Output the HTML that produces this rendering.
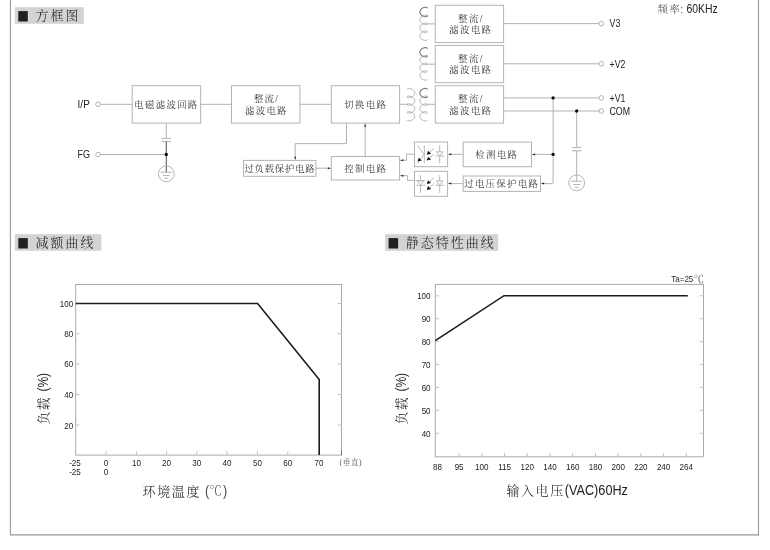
<!DOCTYPE html>
<html lang="zh-CN"><head><meta charset="utf-8"><title>方框图</title>
<style>html,body{margin:0;padding:0;background:#fff;}body{width:770px;height:550px;overflow:hidden;}svg{display:block;filter:grayscale(1);}text{white-space:pre;}</style>
</head><body>
<svg width="770" height="550" viewBox="0 0 770 550">
<rect width="770" height="550" fill="#fff"/>
<polyline points="10.4,-2 10.4,534.85 758.5,534.85 758.5,-2" fill="none" stroke="#969696" stroke-width="1.05" />
<rect x="14.9" y="7.2" width="68.9" height="16.6" fill="#d3d3d3"/>
<rect x="18.3" y="11.1" width="9.5" height="10.4" fill="#231f20"/>
<text transform="translate(35.5,15.8)" text-anchor="start" dy="0.35em" style="font-family:'Liberation Serif','Noto Serif CJK SC',serif;font-size:13.0px;fill:#222;letter-spacing:2.0px;font-weight:300;">方框图</text>
<text transform="translate(77.6,104.3) scale(0.95,1)" text-anchor="start" dy="0.35em" style="font-family:'Liberation Sans',sans-serif;font-size:10.5px;fill:#222;">I/P</text>
<circle cx="98.0" cy="104.3" r="2.3" fill="#fff" stroke="#b3b3b3" stroke-width="1"/>
<line x1="100.3" y1="104.3" x2="132.2" y2="104.3" stroke="#b3b3b3" stroke-width="1"/>
<rect x="132.2" y="85.7" width="68.5" height="37.4" fill="none" stroke="#b3b3b3" stroke-width="1"/>
<text transform="translate(166.4,104.3)" text-anchor="middle" dy="0.35em" style="font-family:'Liberation Serif','Noto Serif CJK SC',serif;font-size:9.4px;fill:#161616;letter-spacing:1.35px;font-weight:300;">电磁滤波回路</text>
<line x1="200.7" y1="104.3" x2="231.5" y2="104.3" stroke="#b3b3b3" stroke-width="1"/>
<rect x="231.5" y="85.7" width="68.4" height="37.4" fill="none" stroke="#b3b3b3" stroke-width="1"/>
<text transform="translate(266.6,98.9)" text-anchor="middle" dy="0.35em" style="font-family:'Liberation Serif','Noto Serif CJK SC',serif;font-size:9.4px;fill:#161616;letter-spacing:1.35px;font-weight:300;">整流/</text>
<text transform="translate(266.4,110.4)" text-anchor="middle" dy="0.35em" style="font-family:'Liberation Serif','Noto Serif CJK SC',serif;font-size:9.4px;fill:#161616;letter-spacing:1.35px;font-weight:300;">滤波电路</text>
<line x1="299.9" y1="104.3" x2="331.3" y2="104.3" stroke="#b3b3b3" stroke-width="1"/>
<rect x="331.3" y="85.7" width="68.3" height="37.4" fill="none" stroke="#b3b3b3" stroke-width="1"/>
<text transform="translate(365.8,104.3)" text-anchor="middle" dy="0.35em" style="font-family:'Liberation Serif','Noto Serif CJK SC',serif;font-size:9.4px;fill:#161616;letter-spacing:1.35px;font-weight:300;">切换电路</text>
<text transform="translate(77.6,154.5) scale(0.86,1)" text-anchor="start" dy="0.35em" style="font-family:'Liberation Sans',sans-serif;font-size:10.5px;fill:#222;">FG</text>
<circle cx="98.0" cy="154.5" r="2.3" fill="#fff" stroke="#b3b3b3" stroke-width="1"/>
<line x1="100.3" y1="154.5" x2="166.3" y2="154.5" stroke="#b3b3b3" stroke-width="1"/>
<line x1="166.3" y1="123.1" x2="166.3" y2="138.4" stroke="#b3b3b3" stroke-width="1"/>
<line x1="161.5" y1="138.4" x2="171.1" y2="138.4" stroke="#b3b3b3" stroke-width="1"/>
<line x1="161.5" y1="141.4" x2="171.1" y2="141.4" stroke="#b3b3b3" stroke-width="1"/>
<line x1="166.3" y1="141.4" x2="166.3" y2="172.2" stroke="#5c5c5c" stroke-width="1.1"/>
<circle cx="166.3" cy="154.5" r="1.7" fill="#111"/>
<circle cx="166.3" cy="173.8" r="7.9" fill="none" stroke="#b3b3b3" stroke-width="1"/>
<line x1="160.70000000000002" y1="172.20000000000002" x2="171.9" y2="172.20000000000002" stroke="#b3b3b3" stroke-width="1"/>
<line x1="162.9" y1="175.60000000000002" x2="169.70000000000002" y2="175.60000000000002" stroke="#b3b3b3" stroke-width="1"/>
<line x1="164.5" y1="178.3" x2="168.10000000000002" y2="178.3" stroke="#b3b3b3" stroke-width="1"/>
<polyline points="346.5,123.1 346.5,143.6 295.2,143.6 295.2,157.5" fill="none" stroke="#b3b3b3" stroke-width="1" />
<polygon points="295.2,160.3 294.2,156.8 296.2,156.8" fill="#2a2a2a"/>
<rect x="243.5" y="160.4" width="72.4" height="15.9" fill="none" stroke="#b3b3b3" stroke-width="1"/>
<text transform="translate(279.9,168.4)" text-anchor="middle" dy="0.35em" style="font-family:'Liberation Serif','Noto Serif CJK SC',serif;font-size:9.4px;fill:#161616;letter-spacing:0.75px;font-weight:300;">过负载保护电路</text>
<line x1="315.7" y1="168.2" x2="329.0" y2="168.2" stroke="#b3b3b3" stroke-width="1"/>
<polygon points="331.3,168.2 327.8,167.2 327.8,169.2" fill="#2a2a2a"/>
<rect x="331.3" y="156.5" width="68.3" height="23.5" fill="none" stroke="#b3b3b3" stroke-width="1"/>
<text transform="translate(365.8,168.3)" text-anchor="middle" dy="0.35em" style="font-family:'Liberation Serif','Noto Serif CJK SC',serif;font-size:9.4px;fill:#161616;letter-spacing:1.35px;font-weight:300;">控制电路</text>
<line x1="365.2" y1="156.5" x2="365.2" y2="125.5" stroke="#b3b3b3" stroke-width="1"/>
<polygon points="365.2,123.3 364.2,126.8 366.2,126.8" fill="#2a2a2a"/>
<rect x="414.5" y="142.0" width="33.1" height="24.7" fill="none" stroke="#b3b3b3" stroke-width="1"/>
<rect x="414.5" y="171.3" width="33.1" height="25.0" fill="none" stroke="#b3b3b3" stroke-width="1"/>
<polyline points="414.5,154.2 406.6,154.2 406.6,160.3 402.5,160.3" fill="none" stroke="#b3b3b3" stroke-width="1" />
<polygon points="399.9,160.3 403.4,159.3 403.4,161.3" fill="#2a2a2a"/>
<polyline points="414.5,180.3 407.6,180.3 407.6,175.7 402.5,175.7" fill="none" stroke="#b3b3b3" stroke-width="1" />
<polygon points="399.9,175.7 403.4,174.7 403.4,176.7" fill="#2a2a2a"/>
<line x1="424.3" y1="145.3" x2="424.3" y2="163.4" stroke="#b9b9b9" stroke-width="1"/>
<polyline points="418.0,145.2 418.0,146.6 424.3,154.4 418.9,160.9" fill="none" stroke="#b9b9b9" stroke-width="1" />
<line x1="418.0" y1="161.3" x2="418.0" y2="163.6" stroke="#b9b9b9" stroke-width="1"/>
<polygon points="417.6,161.6 418.8,157.7 421.9,160.6" fill="#111"/>
<line x1="433.8" y1="148.4" x2="429.2" y2="152.8" stroke="#b9b9b9" stroke-width="1"/>
<polygon points="426.8,154.7 428.0,150.8 431.1,153.7" fill="#111"/>
<line x1="433.8" y1="154.3" x2="429.2" y2="158.70000000000002" stroke="#b9b9b9" stroke-width="1"/>
<polygon points="426.8,160.6 428.0,156.7 431.1,159.6" fill="#111"/>
<line x1="439.7" y1="145.3" x2="439.7" y2="163.4" stroke="#b9b9b9" stroke-width="1"/>
<polygon points="436.5,151.8 442.9,151.8 439.7,156.0" fill="#fff" stroke="#b9b9b9" stroke-width="1"/>
<line x1="435.3" y1="156.0" x2="444.09999999999997" y2="156.0" stroke="#b9b9b9" stroke-width="1"/>
<line x1="416.2" y1="180.6" x2="425.0" y2="180.6" stroke="#b9b9b9" stroke-width="1"/>
<line x1="420.5" y1="175.2" x2="420.5" y2="192.9" stroke="#b9b9b9" stroke-width="1"/>
<polygon points="417.3,180.9 423.7,180.9 420.5,185.3" fill="#fff" stroke="#b9b9b9" stroke-width="1"/>
<line x1="416.1" y1="185.3" x2="424.9" y2="185.3" stroke="#b9b9b9" stroke-width="1"/>
<line x1="433.8" y1="177.8" x2="429.2" y2="182.20000000000002" stroke="#b9b9b9" stroke-width="1"/>
<polygon points="426.8,184.1 428.0,180.2 431.1,183.1" fill="#111"/>
<line x1="433.8" y1="183.70000000000002" x2="429.2" y2="188.10000000000002" stroke="#b9b9b9" stroke-width="1"/>
<polygon points="426.8,190.0 428.0,186.1 431.1,189.0" fill="#111"/>
<line x1="439.7" y1="175.2" x2="439.7" y2="192.9" stroke="#b9b9b9" stroke-width="1"/>
<polygon points="436.5,180.9 442.9,180.9 439.7,185.3" fill="#fff" stroke="#b9b9b9" stroke-width="1"/>
<line x1="435.3" y1="185.3" x2="444.09999999999997" y2="185.3" stroke="#b9b9b9" stroke-width="1"/>
<rect x="463.2" y="142.1" width="68.3" height="24.6" fill="none" stroke="#b3b3b3" stroke-width="1"/>
<text transform="translate(496.8,154.4)" text-anchor="middle" dy="0.35em" style="font-family:'Liberation Serif','Noto Serif CJK SC',serif;font-size:9.4px;fill:#161616;letter-spacing:1.35px;font-weight:300;">检测电路</text>
<rect x="463.2" y="176.0" width="77.3" height="15.4" fill="none" stroke="#b3b3b3" stroke-width="1"/>
<text transform="translate(501.7,183.7)" text-anchor="middle" dy="0.35em" style="font-family:'Liberation Serif','Noto Serif CJK SC',serif;font-size:9.4px;fill:#161616;letter-spacing:1.35px;font-weight:300;">过电压保护电路</text>
<line x1="463.2" y1="154.3" x2="450.5" y2="154.3" stroke="#b3b3b3" stroke-width="1"/>
<polygon points="447.8,154.3 451.3,153.3 451.3,155.3" fill="#2a2a2a"/>
<line x1="463.2" y1="183.6" x2="450.5" y2="183.6" stroke="#b3b3b3" stroke-width="1"/>
<polygon points="447.8,183.6 451.3,182.6 451.3,184.6" fill="#2a2a2a"/>
<line x1="399.6" y1="104.3" x2="408.2" y2="104.3" stroke="#b3b3b3" stroke-width="1"/>
<polyline points="407.0,89.1 407.1,88.86 407.39,88.64 407.85,88.47 408.47,88.37 409.21,88.37 410.03,88.48 410.9,88.69 411.77,89.03 412.59,89.48 413.33,90.04 413.95,90.68 414.41,91.4 414.7,92.18 414.8,92.97 414.7,93.77 414.41,94.55 413.95,95.27 413.33,95.91 412.59,96.47 411.77,96.92 410.9,97.26 410.03,97.47 409.21,97.58 408.47,97.58 407.85,97.48 407.39,97.31 407.1,97.09 407.0,96.85 407.1,96.61 407.39,96.39 407.85,96.22 408.47,96.12 409.21,96.12 410.03,96.23 410.9,96.44 411.77,96.78 412.59,97.23 413.33,97.79 413.95,98.43 414.41,99.15 414.7,99.93 414.8,100.72 414.7,101.52 414.41,102.3 413.95,103.02 413.33,103.66 412.59,104.22 411.77,104.67 410.9,105.01 410.03,105.22 409.21,105.33 408.47,105.33 407.85,105.23 407.39,105.06 407.1,104.84 407.0,104.6 407.1,104.36 407.39,104.14 407.85,103.97 408.47,103.87 409.21,103.87 410.03,103.98 410.9,104.19 411.77,104.53 412.59,104.98 413.33,105.54 413.95,106.18 414.41,106.9 414.7,107.68 414.8,108.47 414.7,109.27 414.41,110.05 413.95,110.77 413.33,111.41 412.59,111.97 411.77,112.42 410.9,112.76 410.03,112.97 409.21,113.08 408.47,113.08 407.85,112.98 407.39,112.81 407.1,112.59 407.0,112.35 407.1,112.11 407.39,111.89 407.85,111.72 408.47,111.62 409.21,111.62 410.03,111.73 410.9,111.94 411.77,112.28 412.59,112.73 413.33,113.29 413.95,113.93 414.41,114.65 414.7,115.43 414.8,116.22 414.7,117.02 414.41,117.8 413.95,118.52 413.33,119.16 412.59,119.72 411.77,120.17 410.9,120.51 410.03,120.72 409.21,120.83 408.47,120.83 407.85,120.73 407.39,120.56 407.1,120.34 407.0,120.1" fill="none" stroke="#b3b3b3" stroke-width="1" />
<polyline points="426.93,96.39 426.49,96.22 425.91,96.12 425.21,96.12 424.42,96.23 423.6,96.44 422.78,96.78 421.99,97.23 421.29,97.79 420.71,98.43 420.27,99.15 419.99,99.93 419.9,100.72 419.99,101.52 420.27,102.3 420.71,103.02 421.29,103.66 421.99,104.22 422.78,104.67 423.6,105.01 424.42,105.22 425.21,105.33 425.91,105.33 426.49,105.23 426.93,105.06 427.21,104.84 427.3,104.6 427.21,104.36 426.93,104.14 426.49,103.97 425.91,103.87 425.21,103.87 424.42,103.98 423.6,104.19 422.78,104.53 421.99,104.98 421.29,105.54 420.71,106.18 420.27,106.9 419.99,107.68 419.9,108.47 419.99,109.27 420.27,110.05 420.71,110.77 421.29,111.41 421.99,111.97 422.78,112.42 423.6,112.76 424.42,112.97 425.21,113.08 425.91,113.08 426.49,112.98 426.93,112.81 427.21,112.59 427.3,112.35 427.21,112.11 426.93,111.89 426.49,111.72 425.91,111.62 425.21,111.62 424.42,111.73 423.6,111.94 422.78,112.28 421.99,112.73 421.29,113.29 420.71,113.93 420.27,114.65 419.99,115.43 419.9,116.22 419.99,117.02 420.27,117.8 420.71,118.52 421.29,119.16 421.99,119.72 422.78,120.17 423.6,120.51 424.42,120.72 425.21,120.83 425.91,120.83 426.49,120.73 426.93,120.56 427.21,120.34 427.3,120.1" fill="none" stroke="#b3b3b3" stroke-width="1" />
<polyline points="427.3,89.1 427.21,88.86 426.93,88.64 426.49,88.47 425.91,88.37 425.21,88.37 424.42,88.48 423.6,88.69 422.78,89.03 421.99,89.48 421.29,90.04 420.71,90.68 420.27,91.4 419.99,92.18 419.9,92.97 419.99,93.77 420.27,94.55 420.71,95.27 421.29,95.91 421.99,96.47 422.78,96.92 423.6,97.26 424.42,97.47 425.21,97.58 425.91,97.58 426.49,97.48 426.93,97.31 427.21,97.09 427.3,96.85 427.21,96.61 426.93,96.39" fill="none" stroke="#7c7c7c" stroke-width="1.1" stroke-linecap="round"/>
<polyline points="426.93,15.45 426.49,15.28 425.91,15.18 425.21,15.18 424.42,15.29 423.6,15.51 422.78,15.85 421.99,16.31 421.29,16.88 420.71,17.54 420.27,18.28 419.99,19.07 419.9,19.89 419.99,20.7 420.27,21.49 420.71,22.23 421.29,22.89 421.99,23.46 422.78,23.92 423.6,24.27 424.42,24.49 425.21,24.59 425.91,24.59 426.49,24.5 426.93,24.32 427.21,24.1 427.3,23.85 427.21,23.6 426.93,23.38 426.49,23.2 425.91,23.11 425.21,23.11 424.42,23.21 423.6,23.43 422.78,23.78 421.99,24.24 421.29,24.81 420.71,25.47 420.27,26.21 419.99,27.0 419.9,27.81 419.99,28.63 420.27,29.42 420.71,30.16 421.29,30.82 421.99,31.39 422.78,31.85 423.6,32.19 424.42,32.41 425.21,32.52 425.91,32.52 426.49,32.42 426.93,32.25 427.21,32.03 427.3,31.78 427.21,31.52 426.93,31.3 426.49,31.13 425.91,31.03 425.21,31.03 424.42,31.14 423.6,31.36 422.78,31.7 421.99,32.16 421.29,32.73 420.71,33.39 420.27,34.13 419.99,34.92 419.9,35.74 419.99,36.55 420.27,37.34 420.71,38.08 421.29,38.74 421.99,39.31 422.78,39.77 423.6,40.12 424.42,40.34 425.21,40.44 425.91,40.44 426.49,40.35 426.93,40.17 427.21,39.95 427.3,39.7" fill="none" stroke="#b3b3b3" stroke-width="1" />
<polyline points="427.3,8.0 427.21,7.75 426.93,7.53 426.49,7.35 425.91,7.26 425.21,7.26 424.42,7.36 423.6,7.58 422.78,7.93 421.99,8.39 421.29,8.96 420.71,9.62 420.27,10.36 419.99,11.15 419.9,11.96 419.99,12.78 420.27,13.57 420.71,14.31 421.29,14.97 421.99,15.54 422.78,16.0 423.6,16.34 424.42,16.56 425.21,16.67 425.91,16.67 426.49,16.57 426.93,16.4 427.21,16.18 427.3,15.93 427.21,15.67 426.93,15.45" fill="none" stroke="#7c7c7c" stroke-width="1.1" stroke-linecap="round"/>
<polyline points="426.93,55.69 426.49,55.52 425.91,55.42 425.21,55.42 424.42,55.53 423.6,55.74 422.78,56.08 421.99,56.53 421.29,57.09 420.71,57.73 420.27,58.45 419.99,59.23 419.9,60.02 419.99,60.82 420.27,61.6 420.71,62.32 421.29,62.96 421.99,63.52 422.78,63.97 423.6,64.31 424.42,64.52 425.21,64.63 425.91,64.63 426.49,64.53 426.93,64.36 427.21,64.14 427.3,63.9 427.21,63.66 426.93,63.44 426.49,63.27 425.91,63.17 425.21,63.17 424.42,63.28 423.6,63.49 422.78,63.83 421.99,64.28 421.29,64.84 420.71,65.48 420.27,66.2 419.99,66.98 419.9,67.78 419.99,68.57 420.27,69.35 420.71,70.07 421.29,70.71 421.99,71.27 422.78,71.72 423.6,72.06 424.42,72.27 425.21,72.38 425.91,72.38 426.49,72.28 426.93,72.11 427.21,71.89 427.3,71.65 427.21,71.41 426.93,71.19 426.49,71.02 425.91,70.92 425.21,70.92 424.42,71.03 423.6,71.24 422.78,71.58 421.99,72.03 421.29,72.59 420.71,73.23 420.27,73.95 419.99,74.73 419.9,75.53 419.99,76.32 420.27,77.1 420.71,77.82 421.29,78.46 421.99,79.02 422.78,79.47 423.6,79.81 424.42,80.02 425.21,80.13 425.91,80.13 426.49,80.03 426.93,79.86 427.21,79.64 427.3,79.4" fill="none" stroke="#b3b3b3" stroke-width="1" />
<polyline points="427.3,48.4 427.21,48.16 426.93,47.94 426.49,47.77 425.91,47.67 425.21,47.67 424.42,47.78 423.6,47.99 422.78,48.33 421.99,48.78 421.29,49.34 420.71,49.98 420.27,50.7 419.99,51.48 419.9,52.27 419.99,53.07 420.27,53.85 420.71,54.57 421.29,55.21 421.99,55.77 422.78,56.22 423.6,56.56 424.42,56.77 425.21,56.88 425.91,56.88 426.49,56.78 426.93,56.61 427.21,56.39 427.3,56.15 427.21,55.91 426.93,55.69" fill="none" stroke="#7c7c7c" stroke-width="1.1" stroke-linecap="round"/>
<rect x="435.2" y="5.3" width="68.4" height="37.3" fill="none" stroke="#b3b3b3" stroke-width="1"/>
<text transform="translate(471.0,18.3)" text-anchor="middle" dy="0.35em" style="font-family:'Liberation Serif','Noto Serif CJK SC',serif;font-size:9.4px;fill:#161616;letter-spacing:1.35px;font-weight:300;">整流/</text>
<text transform="translate(470.8,29.6)" text-anchor="middle" dy="0.35em" style="font-family:'Liberation Serif','Noto Serif CJK SC',serif;font-size:9.4px;fill:#161616;letter-spacing:1.35px;font-weight:300;">滤波电路</text>
<rect x="435.2" y="45.5" width="68.4" height="37.2" fill="none" stroke="#b3b3b3" stroke-width="1"/>
<text transform="translate(471.0,58.4)" text-anchor="middle" dy="0.35em" style="font-family:'Liberation Serif','Noto Serif CJK SC',serif;font-size:9.4px;fill:#161616;letter-spacing:1.35px;font-weight:300;">整流/</text>
<text transform="translate(470.8,69.8)" text-anchor="middle" dy="0.35em" style="font-family:'Liberation Serif','Noto Serif CJK SC',serif;font-size:9.4px;fill:#161616;letter-spacing:1.35px;font-weight:300;">滤波电路</text>
<rect x="435.2" y="85.7" width="68.4" height="37.4" fill="none" stroke="#b3b3b3" stroke-width="1"/>
<text transform="translate(471.0,98.9)" text-anchor="middle" dy="0.35em" style="font-family:'Liberation Serif','Noto Serif CJK SC',serif;font-size:9.4px;fill:#161616;letter-spacing:1.35px;font-weight:300;">整流/</text>
<text transform="translate(470.8,110.4)" text-anchor="middle" dy="0.35em" style="font-family:'Liberation Serif','Noto Serif CJK SC',serif;font-size:9.4px;fill:#161616;letter-spacing:1.35px;font-weight:300;">滤波电路</text>
<line x1="426.5" y1="23.9" x2="435.2" y2="23.9" stroke="#b3b3b3" stroke-width="1"/>
<line x1="426.5" y1="64.2" x2="435.2" y2="64.2" stroke="#b3b3b3" stroke-width="1"/>
<line x1="426.5" y1="104.3" x2="435.2" y2="104.3" stroke="#b3b3b3" stroke-width="1"/>
<line x1="503.6" y1="23.6" x2="599.0" y2="23.6" stroke="#b3b3b3" stroke-width="1"/>
<line x1="503.6" y1="63.8" x2="599.0" y2="63.8" stroke="#b3b3b3" stroke-width="1"/>
<line x1="503.6" y1="97.9" x2="599.0" y2="97.9" stroke="#b3b3b3" stroke-width="1"/>
<line x1="503.6" y1="111.0" x2="599.0" y2="111.0" stroke="#b3b3b3" stroke-width="1"/>
<circle cx="601.3" cy="23.6" r="2.3" fill="#fff" stroke="#b3b3b3" stroke-width="1"/>
<text transform="translate(609.5,23.8) scale(0.84,1)" text-anchor="start" dy="0.35em" style="font-family:'Liberation Sans',sans-serif;font-size:10.5px;fill:#222;">V3</text>
<circle cx="601.3" cy="63.8" r="2.3" fill="#fff" stroke="#b3b3b3" stroke-width="1"/>
<text transform="translate(609.5,64.0) scale(0.84,1)" text-anchor="start" dy="0.35em" style="font-family:'Liberation Sans',sans-serif;font-size:10.5px;fill:#222;">+V2</text>
<circle cx="601.3" cy="97.9" r="2.3" fill="#fff" stroke="#b3b3b3" stroke-width="1"/>
<text transform="translate(609.5,98.10000000000001) scale(0.84,1)" text-anchor="start" dy="0.35em" style="font-family:'Liberation Sans',sans-serif;font-size:10.5px;fill:#222;">+V1</text>
<circle cx="601.3" cy="111.0" r="2.3" fill="#fff" stroke="#b3b3b3" stroke-width="1"/>
<text transform="translate(609.5,111.2) scale(0.84,1)" text-anchor="start" dy="0.35em" style="font-family:'Liberation Sans',sans-serif;font-size:10.5px;fill:#222;">COM</text>
<polyline points="553.1,97.9 553.1,183.6 543.5,183.6" fill="none" stroke="#b3b3b3" stroke-width="1" />
<polygon points="540.7,183.6 544.2,182.6 544.2,184.6" fill="#2a2a2a"/>
<line x1="553.1" y1="154.4" x2="534.2" y2="154.4" stroke="#b3b3b3" stroke-width="1"/>
<polygon points="531.7,154.4 535.2,153.4 535.2,155.4" fill="#2a2a2a"/>
<circle cx="553.1" cy="97.9" r="1.7" fill="#111"/>
<circle cx="553.1" cy="154.4" r="1.7" fill="#111"/>
<line x1="576.7" y1="111.0" x2="576.7" y2="147.6" stroke="#b3b3b3" stroke-width="1"/>
<line x1="571.9" y1="147.6" x2="581.5" y2="147.6" stroke="#b3b3b3" stroke-width="1"/>
<line x1="571.9" y1="150.8" x2="581.5" y2="150.8" stroke="#b3b3b3" stroke-width="1"/>
<line x1="576.7" y1="150.8" x2="576.7" y2="181.0" stroke="#b3b3b3" stroke-width="1"/>
<circle cx="576.7" cy="111.0" r="1.7" fill="#111"/>
<circle cx="576.7" cy="182.8" r="7.9" fill="none" stroke="#b3b3b3" stroke-width="1"/>
<line x1="571.1" y1="181.20000000000002" x2="582.3000000000001" y2="181.20000000000002" stroke="#b3b3b3" stroke-width="1"/>
<line x1="573.3000000000001" y1="184.60000000000002" x2="580.1" y2="184.60000000000002" stroke="#b3b3b3" stroke-width="1"/>
<line x1="574.9000000000001" y1="187.3" x2="578.5" y2="187.3" stroke="#b3b3b3" stroke-width="1"/>
<text transform="translate(657.5,8.9)" text-anchor="start" dy="0.35em" style="font-family:'Liberation Serif','Noto Serif CJK SC',serif;font-size:10.6px;fill:#3a3a3a;letter-spacing:1.2px;font-weight:300;">频率</text>
<text transform="translate(680.3,9.6)" text-anchor="start" dy="0.35em" style="font-family:'Liberation Sans',sans-serif;font-size:10.5px;fill:#555;">:</text>
<text transform="translate(686.4,8.8) scale(0.83,1)" text-anchor="start" dy="0.35em" style="font-family:'Liberation Sans',sans-serif;font-size:12.6px;fill:#222;">60KHz</text>
<rect x="14.9" y="234.2" width="86.5" height="16.6" fill="#d3d3d3"/>
<rect x="18.3" y="238.1" width="9.5" height="10.4" fill="#231f20"/>
<text transform="translate(35.5,242.8)" text-anchor="start" dy="0.35em" style="font-family:'Liberation Serif','Noto Serif CJK SC',serif;font-size:13.0px;fill:#222;letter-spacing:2.0px;font-weight:300;">减额曲线</text>
<rect x="75.7" y="284.5" width="265.8" height="170.6" fill="none" stroke="#aaaaaa" stroke-width="1"/>
<line x1="341.5" y1="450.4" x2="341.5" y2="455.1" stroke="#777" stroke-width="1"/>
<line x1="75.7" y1="303.6" x2="79.5" y2="303.6" stroke="#c2c2c2" stroke-width="1"/>
<line x1="341.5" y1="303.6" x2="337.7" y2="303.6" stroke="#c2c2c2" stroke-width="1"/>
<text transform="translate(73.2,303.8) scale(0.84,1)" text-anchor="end" dy="0.35em" style="font-family:'Liberation Sans',sans-serif;font-size:9.6px;fill:#222;">100</text>
<line x1="75.7" y1="333.7" x2="79.5" y2="333.7" stroke="#c2c2c2" stroke-width="1"/>
<line x1="341.5" y1="333.7" x2="337.7" y2="333.7" stroke="#c2c2c2" stroke-width="1"/>
<text transform="translate(73.2,333.9) scale(0.84,1)" text-anchor="end" dy="0.35em" style="font-family:'Liberation Sans',sans-serif;font-size:9.6px;fill:#222;">80</text>
<line x1="75.7" y1="363.9" x2="79.5" y2="363.9" stroke="#c2c2c2" stroke-width="1"/>
<line x1="341.5" y1="363.9" x2="337.7" y2="363.9" stroke="#c2c2c2" stroke-width="1"/>
<text transform="translate(73.2,364.09999999999997) scale(0.84,1)" text-anchor="end" dy="0.35em" style="font-family:'Liberation Sans',sans-serif;font-size:9.6px;fill:#222;">60</text>
<line x1="75.7" y1="394.5" x2="79.5" y2="394.5" stroke="#c2c2c2" stroke-width="1"/>
<line x1="341.5" y1="394.5" x2="337.7" y2="394.5" stroke="#c2c2c2" stroke-width="1"/>
<text transform="translate(73.2,394.7) scale(0.84,1)" text-anchor="end" dy="0.35em" style="font-family:'Liberation Sans',sans-serif;font-size:9.6px;fill:#222;">40</text>
<line x1="75.7" y1="425.0" x2="79.5" y2="425.0" stroke="#c2c2c2" stroke-width="1"/>
<line x1="341.5" y1="425.0" x2="337.7" y2="425.0" stroke="#c2c2c2" stroke-width="1"/>
<text transform="translate(73.2,425.2) scale(0.84,1)" text-anchor="end" dy="0.35em" style="font-family:'Liberation Sans',sans-serif;font-size:9.6px;fill:#222;">20</text>
<text transform="translate(75.0,462.6) scale(0.84,1)" text-anchor="middle" dy="0.35em" style="font-family:'Liberation Sans',sans-serif;font-size:9.6px;fill:#222;">-25</text>
<line x1="106.0" y1="455.1" x2="106.0" y2="451.3" stroke="#c2c2c2" stroke-width="1"/>
<text transform="translate(106.0,462.6) scale(0.84,1)" text-anchor="middle" dy="0.35em" style="font-family:'Liberation Sans',sans-serif;font-size:9.6px;fill:#222;">0</text>
<line x1="136.4" y1="455.1" x2="136.4" y2="451.3" stroke="#c2c2c2" stroke-width="1"/>
<text transform="translate(136.4,462.6) scale(0.84,1)" text-anchor="middle" dy="0.35em" style="font-family:'Liberation Sans',sans-serif;font-size:9.6px;fill:#222;">10</text>
<line x1="166.5" y1="455.1" x2="166.5" y2="451.3" stroke="#c2c2c2" stroke-width="1"/>
<text transform="translate(166.5,462.6) scale(0.84,1)" text-anchor="middle" dy="0.35em" style="font-family:'Liberation Sans',sans-serif;font-size:9.6px;fill:#222;">20</text>
<line x1="196.8" y1="455.1" x2="196.8" y2="451.3" stroke="#c2c2c2" stroke-width="1"/>
<text transform="translate(196.8,462.6) scale(0.84,1)" text-anchor="middle" dy="0.35em" style="font-family:'Liberation Sans',sans-serif;font-size:9.6px;fill:#222;">30</text>
<line x1="227.0" y1="455.1" x2="227.0" y2="451.3" stroke="#c2c2c2" stroke-width="1"/>
<text transform="translate(227.0,462.6) scale(0.84,1)" text-anchor="middle" dy="0.35em" style="font-family:'Liberation Sans',sans-serif;font-size:9.6px;fill:#222;">40</text>
<line x1="257.5" y1="455.1" x2="257.5" y2="451.3" stroke="#c2c2c2" stroke-width="1"/>
<text transform="translate(257.5,462.6) scale(0.84,1)" text-anchor="middle" dy="0.35em" style="font-family:'Liberation Sans',sans-serif;font-size:9.6px;fill:#222;">50</text>
<line x1="287.8" y1="455.1" x2="287.8" y2="451.3" stroke="#c2c2c2" stroke-width="1"/>
<text transform="translate(287.8,462.6) scale(0.84,1)" text-anchor="middle" dy="0.35em" style="font-family:'Liberation Sans',sans-serif;font-size:9.6px;fill:#222;">60</text>
<line x1="318.9" y1="455.1" x2="318.9" y2="451.3" stroke="#c2c2c2" stroke-width="1"/>
<text transform="translate(318.9,462.6) scale(0.84,1)" text-anchor="middle" dy="0.35em" style="font-family:'Liberation Sans',sans-serif;font-size:9.6px;fill:#222;">70</text>
<text transform="translate(75.0,471.3) scale(0.84,1)" text-anchor="middle" dy="0.35em" style="font-family:'Liberation Sans',sans-serif;font-size:9.6px;fill:#222;">-25</text>
<text transform="translate(106.0,471.3) scale(0.84,1)" text-anchor="middle" dy="0.35em" style="font-family:'Liberation Sans',sans-serif;font-size:9.6px;fill:#222;">0</text>
<text transform="translate(339.6,462.2)" text-anchor="start" dy="0.35em" style="font-family:'Liberation Serif','Noto Serif CJK SC',serif;font-size:7.6px;fill:#555;letter-spacing:0.6px;font-weight:300;">(垂直)</text>
<polyline points="75.7,303.5 257.6,303.5 319.2,379.6 319.2,455.1" fill="none" stroke="#1c1c1c" stroke-width="1.6" stroke-linejoin="miter"/>
<text transform="translate(142.6,491.2)" text-anchor="start" dy="0.35em" style="font-family:'Liberation Serif','Noto Serif CJK SC',serif;font-size:13.0px;fill:#161616;letter-spacing:1.6px;font-weight:300;">环境温度</text>
<text transform="translate(204.9,490.6) scale(0.85,1)" text-anchor="start" dy="0.35em" style="font-family:'Liberation Sans',sans-serif;font-size:15.0px;fill:#4a4a4a;">(</text>
<text transform="translate(209.2,491.0)" text-anchor="start" dy="0.35em" style="font-family:'Liberation Serif','Noto Serif CJK SC',serif;font-size:12.6px;fill:#555;font-weight:300;">℃</text>
<text transform="translate(223.0,490.6) scale(0.85,1)" text-anchor="start" dy="0.35em" style="font-family:'Liberation Sans',sans-serif;font-size:15.0px;fill:#4a4a4a;">)</text>
<text transform="translate(43.8,424.4) rotate(-90)" text-anchor="start" dy="0.35em" style="font-family:'Liberation Serif','Noto Serif CJK SC',serif;font-size:12.8px;fill:#161616;letter-spacing:1.4px;font-weight:300;">负载</text>
<text transform="translate(43.5,391.6) rotate(-90) scale(0.86,1)" text-anchor="start" dy="0.35em" style="font-family:'Liberation Sans',sans-serif;font-size:14.0px;fill:#222;">(%)</text>
<rect x="385.2" y="234.2" width="113.0" height="16.6" fill="#d3d3d3"/>
<rect x="388.6" y="238.1" width="9.5" height="10.4" fill="#231f20"/>
<text transform="translate(405.8,242.8)" text-anchor="start" dy="0.35em" style="font-family:'Liberation Serif','Noto Serif CJK SC',serif;font-size:13.0px;fill:#222;letter-spacing:2.0px;font-weight:300;">静态特性曲线</text>
<rect x="435.3" y="284.4" width="268.2" height="172.4" fill="none" stroke="#aaaaaa" stroke-width="1"/>
<line x1="435.3" y1="295.8" x2="439.1" y2="295.8" stroke="#c2c2c2" stroke-width="1"/>
<line x1="703.5" y1="295.8" x2="699.7" y2="295.8" stroke="#c2c2c2" stroke-width="1"/>
<text transform="translate(430.6,296.0) scale(0.84,1)" text-anchor="end" dy="0.35em" style="font-family:'Liberation Sans',sans-serif;font-size:9.6px;fill:#222;">100</text>
<line x1="435.3" y1="318.7" x2="439.1" y2="318.7" stroke="#c2c2c2" stroke-width="1"/>
<line x1="703.5" y1="318.7" x2="699.7" y2="318.7" stroke="#c2c2c2" stroke-width="1"/>
<text transform="translate(430.6,318.9) scale(0.84,1)" text-anchor="end" dy="0.35em" style="font-family:'Liberation Sans',sans-serif;font-size:9.6px;fill:#222;">90</text>
<line x1="435.3" y1="341.6" x2="439.1" y2="341.6" stroke="#c2c2c2" stroke-width="1"/>
<line x1="703.5" y1="341.6" x2="699.7" y2="341.6" stroke="#c2c2c2" stroke-width="1"/>
<text transform="translate(430.6,341.8) scale(0.84,1)" text-anchor="end" dy="0.35em" style="font-family:'Liberation Sans',sans-serif;font-size:9.6px;fill:#222;">80</text>
<line x1="435.3" y1="364.5" x2="439.1" y2="364.5" stroke="#c2c2c2" stroke-width="1"/>
<line x1="703.5" y1="364.5" x2="699.7" y2="364.5" stroke="#c2c2c2" stroke-width="1"/>
<text transform="translate(430.6,364.7) scale(0.84,1)" text-anchor="end" dy="0.35em" style="font-family:'Liberation Sans',sans-serif;font-size:9.6px;fill:#222;">70</text>
<line x1="435.3" y1="387.4" x2="439.1" y2="387.4" stroke="#c2c2c2" stroke-width="1"/>
<line x1="703.5" y1="387.4" x2="699.7" y2="387.4" stroke="#c2c2c2" stroke-width="1"/>
<text transform="translate(430.6,387.59999999999997) scale(0.84,1)" text-anchor="end" dy="0.35em" style="font-family:'Liberation Sans',sans-serif;font-size:9.6px;fill:#222;">60</text>
<line x1="435.3" y1="410.3" x2="439.1" y2="410.3" stroke="#c2c2c2" stroke-width="1"/>
<line x1="703.5" y1="410.3" x2="699.7" y2="410.3" stroke="#c2c2c2" stroke-width="1"/>
<text transform="translate(430.6,410.5) scale(0.84,1)" text-anchor="end" dy="0.35em" style="font-family:'Liberation Sans',sans-serif;font-size:9.6px;fill:#222;">50</text>
<line x1="435.3" y1="433.3" x2="439.1" y2="433.3" stroke="#c2c2c2" stroke-width="1"/>
<line x1="703.5" y1="433.3" x2="699.7" y2="433.3" stroke="#c2c2c2" stroke-width="1"/>
<text transform="translate(430.6,433.5) scale(0.84,1)" text-anchor="end" dy="0.35em" style="font-family:'Liberation Sans',sans-serif;font-size:9.6px;fill:#222;">40</text>
<text transform="translate(437.4,466.9) scale(0.84,1)" text-anchor="middle" dy="0.35em" style="font-family:'Liberation Sans',sans-serif;font-size:9.6px;fill:#222;">88</text>
<line x1="459.12" y1="456.8" x2="459.12" y2="453.0" stroke="#c2c2c2" stroke-width="1"/>
<text transform="translate(459.12,466.9) scale(0.84,1)" text-anchor="middle" dy="0.35em" style="font-family:'Liberation Sans',sans-serif;font-size:9.6px;fill:#222;">95</text>
<line x1="481.84" y1="456.8" x2="481.84" y2="453.0" stroke="#c2c2c2" stroke-width="1"/>
<text transform="translate(481.84,466.9) scale(0.84,1)" text-anchor="middle" dy="0.35em" style="font-family:'Liberation Sans',sans-serif;font-size:9.6px;fill:#222;">100</text>
<line x1="504.56" y1="456.8" x2="504.56" y2="453.0" stroke="#c2c2c2" stroke-width="1"/>
<text transform="translate(504.56,466.9) scale(0.84,1)" text-anchor="middle" dy="0.35em" style="font-family:'Liberation Sans',sans-serif;font-size:9.6px;fill:#222;">115</text>
<line x1="527.28" y1="456.8" x2="527.28" y2="453.0" stroke="#c2c2c2" stroke-width="1"/>
<text transform="translate(527.28,466.9) scale(0.84,1)" text-anchor="middle" dy="0.35em" style="font-family:'Liberation Sans',sans-serif;font-size:9.6px;fill:#222;">120</text>
<line x1="550.0" y1="456.8" x2="550.0" y2="453.0" stroke="#c2c2c2" stroke-width="1"/>
<text transform="translate(550.0,466.9) scale(0.84,1)" text-anchor="middle" dy="0.35em" style="font-family:'Liberation Sans',sans-serif;font-size:9.6px;fill:#222;">140</text>
<line x1="572.72" y1="456.8" x2="572.72" y2="453.0" stroke="#c2c2c2" stroke-width="1"/>
<text transform="translate(572.72,466.9) scale(0.84,1)" text-anchor="middle" dy="0.35em" style="font-family:'Liberation Sans',sans-serif;font-size:9.6px;fill:#222;">160</text>
<line x1="595.44" y1="456.8" x2="595.44" y2="453.0" stroke="#c2c2c2" stroke-width="1"/>
<text transform="translate(595.44,466.9) scale(0.84,1)" text-anchor="middle" dy="0.35em" style="font-family:'Liberation Sans',sans-serif;font-size:9.6px;fill:#222;">180</text>
<line x1="618.16" y1="456.8" x2="618.16" y2="453.0" stroke="#c2c2c2" stroke-width="1"/>
<text transform="translate(618.16,466.9) scale(0.84,1)" text-anchor="middle" dy="0.35em" style="font-family:'Liberation Sans',sans-serif;font-size:9.6px;fill:#222;">200</text>
<line x1="640.88" y1="456.8" x2="640.88" y2="453.0" stroke="#c2c2c2" stroke-width="1"/>
<text transform="translate(640.88,466.9) scale(0.84,1)" text-anchor="middle" dy="0.35em" style="font-family:'Liberation Sans',sans-serif;font-size:9.6px;fill:#222;">220</text>
<line x1="663.6" y1="456.8" x2="663.6" y2="453.0" stroke="#c2c2c2" stroke-width="1"/>
<text transform="translate(663.6,466.9) scale(0.84,1)" text-anchor="middle" dy="0.35em" style="font-family:'Liberation Sans',sans-serif;font-size:9.6px;fill:#222;">240</text>
<line x1="686.32" y1="456.8" x2="686.32" y2="453.0" stroke="#c2c2c2" stroke-width="1"/>
<text transform="translate(686.32,466.9) scale(0.84,1)" text-anchor="middle" dy="0.35em" style="font-family:'Liberation Sans',sans-serif;font-size:9.6px;fill:#222;">264</text>
<polyline points="435.3,340.6 504.0,295.7 687.8,295.7" fill="none" stroke="#1c1c1c" stroke-width="1.6" />
<text transform="translate(671.2,279.0) scale(0.83,1)" text-anchor="start" dy="0.35em" style="font-family:'Liberation Sans',sans-serif;font-size:9.7px;fill:#2c2c2c;">Ta=25</text>
<text transform="translate(693.8,279.0)" text-anchor="start" dy="0.35em" style="font-family:'Liberation Serif','Noto Serif CJK SC',serif;font-size:10.4px;fill:#444;font-weight:300;">℃</text>
<text transform="translate(506.4,490.4)" text-anchor="start" dy="0.35em" style="font-family:'Liberation Serif','Noto Serif CJK SC',serif;font-size:13.0px;fill:#161616;letter-spacing:1.6px;font-weight:300;">输入电压</text>
<text transform="translate(564.8,490.2) scale(0.845,1)" text-anchor="start" dy="0.35em" style="font-family:'Liberation Sans',sans-serif;font-size:15.0px;fill:#222;">(VAC)60Hz</text>
<text transform="translate(401.8,424.4) rotate(-90)" text-anchor="start" dy="0.35em" style="font-family:'Liberation Serif','Noto Serif CJK SC',serif;font-size:12.8px;fill:#161616;letter-spacing:1.4px;font-weight:300;">负载</text>
<text transform="translate(401.5,391.6) rotate(-90) scale(0.86,1)" text-anchor="start" dy="0.35em" style="font-family:'Liberation Sans',sans-serif;font-size:14.0px;fill:#222;">(%)</text>
</svg>
</body></html>
